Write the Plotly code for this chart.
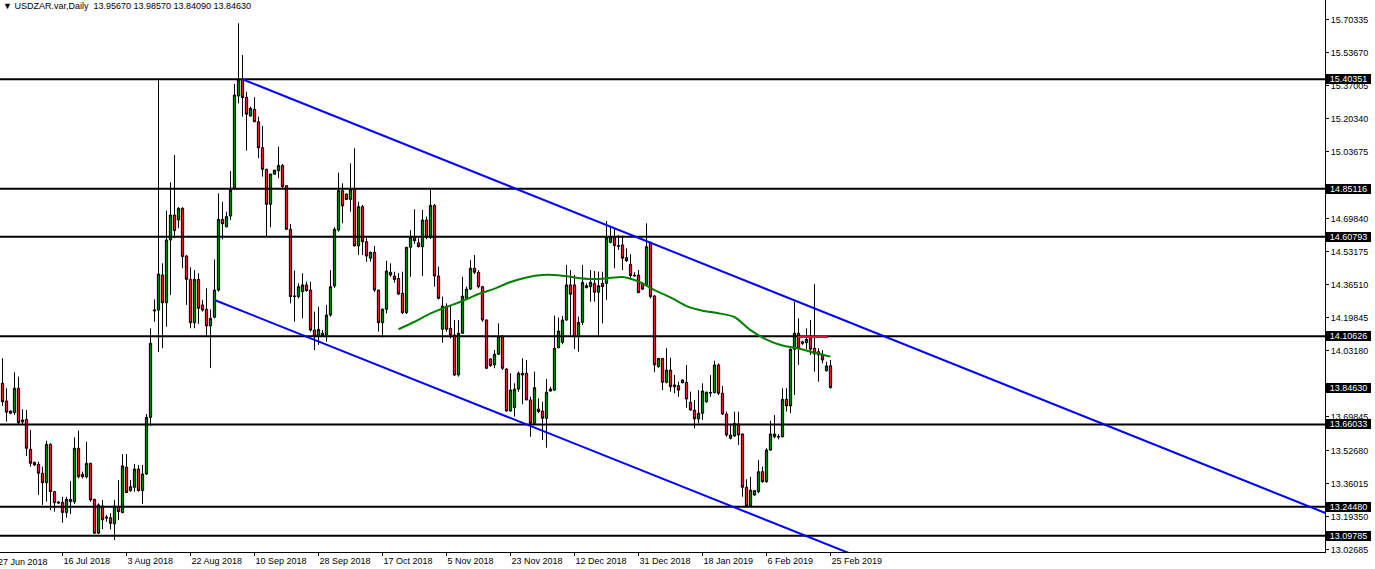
import plotly.graph_objects as go

# ---------------- data (daily USDZAR bars) ----------------
open_ = [13.868,13.779,13.728,13.720,13.843,13.673,13.686,13.535,13.469,13.459,
         13.414,13.366,13.560,13.321,13.269,13.267,13.215,13.282,13.270,13.540,
         13.409,13.396,13.464,13.282,13.111,13.248,13.193,13.189,13.158,13.245,
         13.215,13.444,13.326,13.343,13.435,13.326,13.410,13.696,14.233,14.238,
         14.415,14.275,14.592,14.718,14.693,14.752,14.511,14.393,14.174,14.393,
         14.264,14.242,14.158,14.202,14.339,14.696,14.659,14.713,14.853,15.319,
         15.400,15.313,15.218,15.252,15.189,15.058,14.949,14.772,14.924,14.942,
         14.969,14.866,14.646,14.306,14.306,14.331,14.365,14.339,14.137,14.104,
         14.121,14.112,14.213,14.360,14.642,14.841,14.824,14.797,14.848,14.562,
         14.760,14.583,14.500,14.530,14.339,14.174,14.242,14.429,14.410,14.398,
         14.323,14.225,14.555,14.606,14.578,14.558,14.693,14.606,14.767,14.410,
         14.141,14.258,14.146,14.112,13.910,14.121,14.297,14.344,14.449,14.429,
         14.356,14.188,13.991,13.961,14.015,14.104,13.940,13.728,13.745,13.839,
         13.919,13.919,13.784,13.666,13.738,13.728,13.691,13.829,13.834,14.048,
         14.075,14.188,14.365,14.365,14.104,14.176,14.351,14.356,14.373,14.328,
         14.373,14.373,14.580,14.604,14.563,14.567,14.503,14.469,14.414,14.415,
         14.373,14.365,14.580,14.309,13.952,13.994,13.873,13.935,13.860,13.856,
         13.885,13.873,13.772,13.733,13.688,13.717,13.775,13.819,13.821,13.961,
         13.818,13.713,13.590,13.602,13.663,13.612,13.343,13.248,13.304,13.321,
         13.422,13.371,13.531,13.598,13.600,13.598,13.787,13.754,14.040,14.121,
         14.078,14.073,14.100,14.045,14.028,14.011,13.932,13.9567]
high = [13.994,13.843,13.730,13.924,13.902,13.737,13.733,13.632,13.472,13.472,
        13.447,13.578,13.565,13.325,13.272,13.295,13.295,13.375,13.595,13.629,
        13.422,13.573,13.466,13.285,13.262,13.279,13.203,13.212,13.279,13.380,
        13.510,13.511,13.380,13.461,13.456,13.456,13.713,14.146,14.292,15.400,
        14.474,14.740,14.883,15.021,14.757,14.757,14.516,14.454,14.440,14.424,
        14.289,14.348,14.242,14.494,14.828,14.785,14.735,14.940,15.380,15.686,
        15.526,15.341,15.265,15.313,15.215,15.168,14.952,14.925,14.945,15.063,
        14.976,14.868,14.673,14.437,14.373,14.424,14.381,14.381,14.230,14.255,
        14.137,14.264,14.440,14.656,14.932,14.878,14.828,14.979,15.055,14.785,
        14.769,14.601,14.533,14.562,14.341,14.247,14.487,14.474,14.432,14.424,
        14.432,14.557,14.642,14.747,14.601,14.743,14.710,14.848,14.774,14.457,
        14.306,14.272,14.264,14.188,14.188,14.406,14.356,14.491,14.516,14.440,
        14.360,14.190,13.994,14.036,14.171,14.112,13.945,13.919,13.868,13.927,
        13.994,13.986,13.800,13.927,13.792,13.775,13.890,13.851,14.210,14.200,
        14.208,14.466,14.440,14.415,14.205,14.466,14.373,14.440,14.435,14.432,
        14.432,14.688,14.659,14.651,14.617,14.614,14.550,14.520,14.429,14.440,
        14.378,14.676,14.583,14.314,13.996,13.996,14.045,13.997,13.910,13.876,
        13.888,13.961,13.826,13.784,13.834,13.868,13.826,13.910,13.982,13.969,
        13.855,13.725,13.658,13.725,13.725,13.615,13.383,13.396,13.329,13.481,
        13.447,13.540,13.679,13.708,13.612,13.843,13.843,14.045,14.280,14.196,
        14.083,14.146,14.188,14.370,14.045,14.036,13.977,13.9857]
low = [13.754,13.674,13.712,13.708,13.658,13.658,13.501,13.447,13.450,13.304,
       13.254,13.270,13.228,13.220,13.259,13.164,13.189,13.208,13.259,13.388,
       13.388,13.388,13.270,13.107,13.107,13.131,13.169,13.131,13.077,13.178,
       13.212,13.316,13.321,13.321,13.321,13.259,13.405,13.653,14.179,14.026,
       14.045,14.154,14.314,14.601,14.651,14.449,14.264,14.146,14.146,14.168,
       14.230,14.112,13.945,14.196,14.331,14.595,14.655,14.693,14.844,15.282,
       15.215,15.043,15.215,15.189,15.005,14.912,14.609,14.656,14.924,14.904,
       14.853,14.642,14.272,14.179,14.297,14.196,14.331,14.129,14.036,14.062,
       14.104,14.078,14.205,14.350,14.634,14.676,14.794,14.735,14.558,14.516,
       14.516,14.482,14.482,14.329,14.129,14.100,14.222,14.406,14.376,14.314,
       14.218,14.218,14.406,14.572,14.555,14.410,14.595,14.597,14.356,14.292,
       14.073,14.129,14.095,13.905,13.902,14.117,14.294,14.339,14.419,14.348,
       14.179,13.940,13.952,13.944,14.011,13.935,13.725,13.725,13.700,13.826,
       13.762,13.784,13.598,13.658,13.717,13.582,13.543,13.826,13.829,14.045,
       14.065,14.183,14.104,14.041,14.028,14.163,14.348,14.280,14.280,14.112,
       14.171,14.289,14.575,14.449,14.541,14.440,14.481,14.390,14.406,14.323,
       14.339,14.356,14.297,13.924,13.947,13.834,13.868,13.826,13.818,13.800,
       13.868,13.745,13.730,13.641,13.666,13.683,13.770,13.800,13.818,13.809,
       13.708,13.598,13.585,13.598,13.557,13.295,13.245,13.245,13.299,13.313,
       13.366,13.366,13.528,13.590,13.585,13.595,13.725,13.717,13.809,13.961,
       14.062,14.040,14.011,13.927,13.876,13.969,13.927,13.8409]
close = [13.775,13.722,13.717,13.843,13.669,13.683,13.540,13.464,13.456,13.414,
         13.366,13.560,13.321,13.265,13.264,13.215,13.282,13.270,13.540,13.396,
         13.396,13.464,13.279,13.111,13.254,13.178,13.188,13.161,13.248,13.220,
         13.451,13.316,13.346,13.435,13.326,13.410,13.696,14.070,14.238,14.420,
         14.275,14.592,14.718,14.639,14.752,14.508,14.393,14.174,14.393,14.247,
         14.238,14.158,14.196,14.339,14.696,14.673,14.710,14.844,15.324,15.400,
         15.311,15.227,15.257,15.189,15.058,14.949,14.772,14.925,14.945,14.969,
         14.861,14.646,14.306,14.309,14.356,14.365,14.336,14.137,14.104,14.141,
         14.107,14.213,14.356,14.646,14.841,14.764,14.797,14.848,14.562,14.760,
         14.583,14.511,14.530,14.339,14.174,14.242,14.435,14.415,14.393,14.319,
         14.225,14.555,14.606,14.588,14.558,14.693,14.606,14.767,14.410,14.297,
         14.258,14.141,14.112,13.910,14.121,14.309,14.344,14.449,14.429,14.356,
         14.188,13.944,13.957,14.015,14.104,13.944,13.728,13.834,13.839,13.919,
         13.910,13.784,13.666,13.846,13.725,13.691,13.823,13.839,14.045,14.132,
         14.188,14.365,14.318,14.104,14.176,14.378,14.361,14.378,14.328,14.361,
         14.356,14.604,14.604,14.563,14.561,14.500,14.487,14.412,14.411,14.326,
         14.344,14.558,14.306,13.961,13.994,13.873,13.935,13.851,13.851,13.834,
         13.871,13.789,13.733,13.688,13.717,13.829,13.823,13.821,13.961,13.818,
         13.713,13.607,13.607,13.666,13.607,13.343,13.248,13.329,13.326,13.422,
         13.371,13.531,13.612,13.612,13.597,13.787,13.754,14.040,14.121,14.045,
         14.070,14.090,14.040,14.016,14.011,13.986,13.956,13.8463]
bars = list(range(len(close)))

tick_bars = [-1, 15, 31, 47, 63, 79, 95, 111, 127, 143, 159, 175, 191, 207]
tick_dates = ["27 Jun 2018", "16 Jul 2018", "3 Aug 2018", "22 Aug 2018", "10 Sep 2018",
              "28 Sep 2018", "17 Oct 2018", "5 Nov 2018", "23 Nov 2018", "12 Dec 2018",
              "31 Dec 2018", "18 Jan 2019", "6 Feb 2019", "25 Feb 2019"]

price_ticks = [15.70335, 15.53670, 15.37005, 15.20340, 15.03675, 14.69840, 14.53175,
               14.36510, 14.19845, 14.03180, 13.69845, 13.52680, 13.36015, 13.19350, 13.02685]

levels = [15.40351, 14.85116, 14.60793, 14.10626, 13.66033, 13.24480, 13.09785]
last_price = 13.84630
title_text = "USDZAR.var,Daily  13.95670 13.98570 13.84090 13.84630"

# moving average readings
ma_bars = [99, 103, 107, 111, 115, 119, 123, 127, 131, 135, 139, 143, 147, 151,
           155, 159, 163, 167, 171, 175, 179, 183, 187, 191, 195, 199, 203, 207]
ma_values = [14.141, 14.179, 14.221, 14.254, 14.284, 14.319, 14.346, 14.380, 14.403,
             14.415, 14.414, 14.403, 14.395, 14.398, 14.405, 14.382, 14.339, 14.302,
             14.258, 14.235, 14.222, 14.203, 14.137, 14.089, 14.059, 14.044, 14.022, 14.003]

# channel trend lines (bar index, price)
upper_bars = [60, 340]
upper_prices = [15.40351, 13.138]
lower_bars = [53, 240]
lower_prices = [14.289, 12.782]
red_bars = [198.75, 206.25]
red_prices = [14.102, 14.102]

X_MIN, X_MAX = -0.625, 330.625
Y_MIN, Y_MAX = 13.0161, 15.8040

fig = go.Figure()

# horizontal levels
for lv in levels:
    fig.add_trace(go.Scatter(x=[X_MIN - 5, X_MAX + 5], y=[lv, lv], mode="lines",
                             line=dict(color="black", width=2), hoverinfo="skip"))

fig.add_trace(go.Scatter(x=upper_bars, y=upper_prices, mode="lines",
                         line=dict(color="#0000ff", width=2), hoverinfo="skip"))
fig.add_trace(go.Scatter(x=lower_bars, y=lower_prices, mode="lines",
                         line=dict(color="#0000ff", width=2), hoverinfo="skip"))

fig.add_trace(go.Candlestick(
    x=bars, open=open_, high=high, low=low, close=close,
    increasing=dict(line=dict(color="black", width=1), fillcolor="#008000"),
    decreasing=dict(line=dict(color="black", width=1), fillcolor="#e02020"),
    whiskerwidth=0))

fig.add_trace(go.Scatter(x=ma_bars, y=ma_values, mode="lines",
                         line=dict(color="#008000", width=2, shape="spline", smoothing=0.6),
                         hoverinfo="skip"))
fig.add_trace(go.Scatter(x=red_bars, y=red_prices, mode="lines",
                         line=dict(color="#dc143c", width=2), hoverinfo="skip"))

FONT = "Liberation Sans, Arial, sans-serif"

annotations = []
for lv in levels + [last_price]:
    annotations.append(dict(x=1, xref="paper", xanchor="left", xshift=1,
                            y=lv, yref="y", yanchor="middle",
                            text=f"{lv:.5f}", showarrow=False,
                            font=dict(family=FONT, size=9, color="white"),
                            bgcolor="black", borderpad=0, borderwidth=0,
                            width=45, height=10))
annotations.append(dict(x=0, xref="paper", xanchor="left", xshift=1,
                        y=1, yref="paper", yanchor="top", yshift=1,
                        text="\u25bc " + title_text, showarrow=False,
                        font=dict(family=FONT, size=9, color="black")))
# first date label: its tick lies just left of the visible range (cut by the window edge)
annotations.append(dict(x=0, xref="paper", xanchor="left", xshift=-4,
                        y=0, yref="paper", yanchor="top", yshift=-3,
                        text=tick_dates[0], showarrow=False,
                        font=dict(family=FONT, size=9, color="black")))

fig.update_layout(
    width=1375, height=569,
    margin=dict(l=0, r=50, t=0, b=17),
    paper_bgcolor="white", plot_bgcolor="white",
    showlegend=False, boxgap=0.2,
    font=dict(family=FONT, size=9, color="black"),
    xaxis=dict(range=[X_MIN, X_MAX], rangeslider=dict(visible=False),
               tickvals=tick_bars, ticktext=tick_dates,
               ticks="outside", ticklen=3, tickcolor="black",
               ticklabelposition="outside right", automargin=False,
               showline=True, linecolor="black", linewidth=1,
               showgrid=False, zeroline=False,
               tickfont=dict(family=FONT, size=9, color="black")),
    yaxis=dict(side="right", range=[Y_MIN, Y_MAX], automargin=False,
               tickvals=price_ticks, ticktext=[f"{v:.5f}" for v in price_ticks],
               ticks="outside", ticklen=3, tickcolor="black",
               showline=True, linecolor="black", linewidth=1,
               showgrid=False, zeroline=False,
               tickfont=dict(family=FONT, size=9, color="black")),
    annotations=annotations,
)

fig.write_html("out.html", config={"displayModeBar": False},
               post_script="document.body.style.margin='0';document.body.style.overflow='hidden';")
